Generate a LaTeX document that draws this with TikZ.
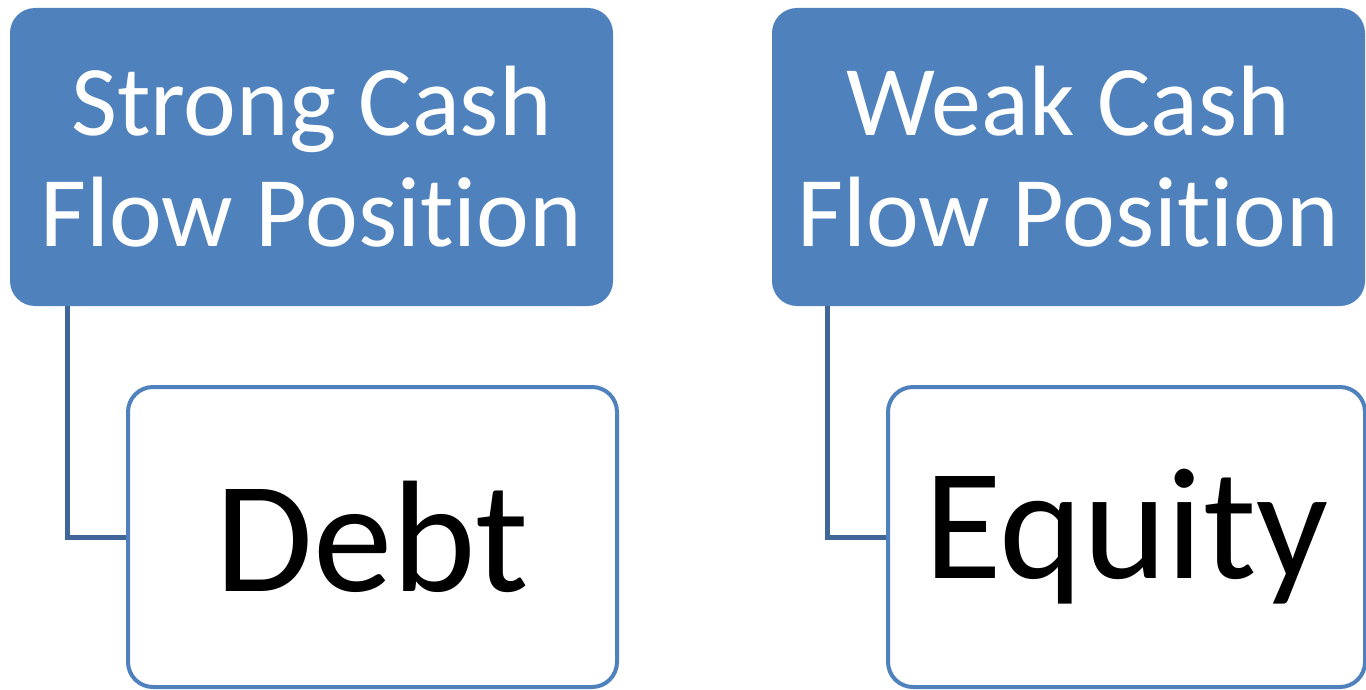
\documentclass[tikz,border=0pt]{standalone}
\usepackage{fontspec}
\setmainfont[Ligatures=NoCommon]{Carlito}
\usetikzlibrary{backgrounds}
\definecolor{hdrblue}{HTML}{4F81BD}
\definecolor{linkblue}{HTML}{3F6599}
% "t" and "i" set as separate letters
\newcommand{\Position}{Posit\kern0pt ion}
\tikzset{
  header/.style={rectangle, rounded corners=12.5pt, fill=hdrblue, draw=none,
    text=white, align=center, inner sep=0pt,
    font=\fontsize{50pt}{55.5pt}\selectfont},
  leaf/.style={rectangle, rounded corners=12.5pt, fill=white, draw=hdrblue,
    line width=2pt, text=black, inner sep=0pt,
    font=\fontsize{79.5pt}{90pt}\selectfont},
  link/.style={draw=linkblue, line width=2.5pt}
}
\begin{document}
\begin{tikzpicture}[x=0.5pt, y=-0.5pt]
  \useasboundingbox (0,0) rectangle (1366,690);

  % left branch
  \node[header, minimum width=301.5pt, minimum height=149pt] (strong) at (311.5,157)
    {Strong Cash\\Flow \Position};
  \node[leaf, minimum width=244.5pt, minimum height=150pt] (debt) at (372.5,537) {Debt};

  % right branch
  \node[header, minimum width=296.5pt, minimum height=149pt] (weak) at (1068.5,157)
    {Weak Cash\\Flow \Position};
  \node[leaf, minimum width=238.5pt, minimum height=150pt] (equity) at (1126.5,537) {Equity};

  % elbow connectors, kept behind the boxes
  \begin{scope}[on background layer]
    \draw[link] ([xshift=29pt]strong.south west) |- (debt.west);
    \draw[link] ([xshift=28pt]weak.south west) |- (equity.west);
  \end{scope}
\end{tikzpicture}
\end{document}
